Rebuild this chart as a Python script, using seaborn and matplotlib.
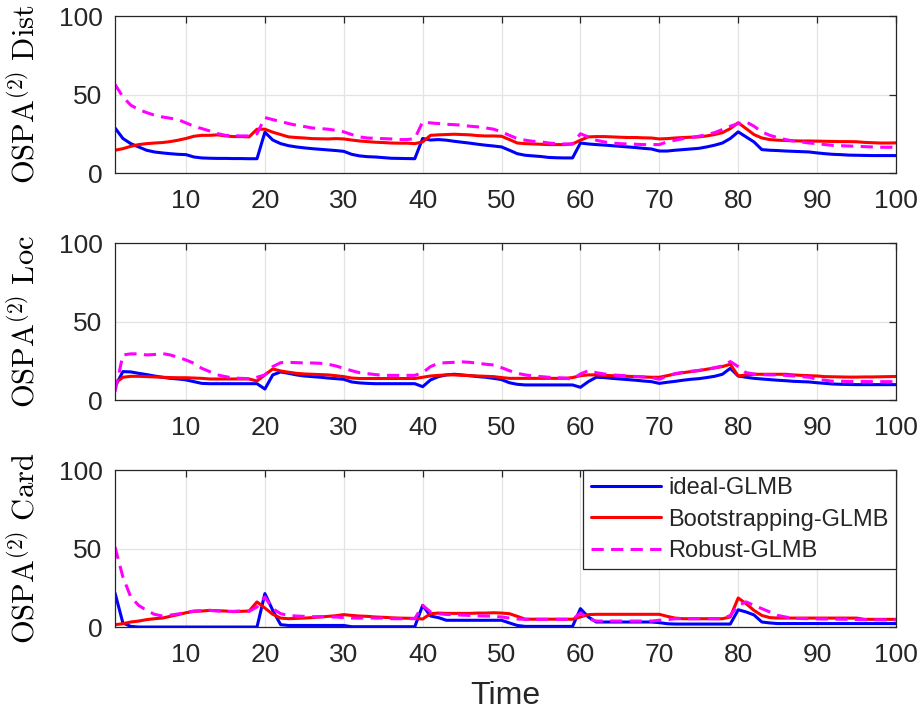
import numpy as np
import pandas as pd
import matplotlib
matplotlib.use("Agg")
import matplotlib.pyplot as plt
import seaborn as sns

# ---------------------------------------------------------------- data
time = list(range(1, 101))
methods = ["ideal-GLMB", "Bootstrapping-GLMB", "Robust-GLMB"]

# OSPA(2) distance
dist_ideal = [
    28.7, 22.0, 18.7, 16.6, 14.5, 13.4, 12.8, 12.3, 11.9, 11.7,
    10.2, 9.6, 9.4, 9.3, 9.3, 9.2, 9.2, 9.1, 9.1, 26.0,
    21.0, 18.7, 17.4, 16.6, 16.0, 15.5, 15.1, 14.7, 14.3, 13.8,
    11.9, 10.9, 10.4, 10.2, 9.8, 9.4, 9.3, 9.2, 9.1, 22.0,
    21.0, 21.3, 20.9, 20.2, 19.6, 19.0, 18.3, 17.7, 17.2, 16.6,
    14.5, 12.3, 11.3, 10.9, 10.5, 9.9, 9.7, 9.6, 9.6, 19.1,
    18.5, 18.1, 17.8, 17.4, 17.0, 16.6, 16.2, 15.7, 15.3, 14.0,
    14.0, 14.5, 14.9, 15.3, 15.7, 16.6, 17.7, 19.1, 22.0, 26.2,
    23.0, 19.8, 14.9, 14.5, 14.3, 14.0, 13.8, 13.6, 13.4, 12.8,
    12.3, 11.9, 11.7, 11.4, 11.3, 11.2, 11.1, 11.1, 11.1, 11.1,
]
dist_boot = [
    14.5, 15.5, 17.0, 18.1, 18.7, 19.1, 19.4, 20.0, 20.9, 22.0,
    23.4, 24.0, 24.0, 24.3, 23.6, 23.2, 23.2, 23.0, 27.9, 27.9,
    26.0, 24.5, 23.0, 22.6, 22.3, 21.9, 21.8, 21.7, 21.9, 21.7,
    21.0, 20.4, 20.0, 19.6, 19.4, 19.1, 19.0, 19.0, 18.7, 19.8,
    24.0, 24.3, 24.5, 24.7, 24.5, 24.3, 23.8, 23.6, 23.6, 23.4,
    21.3, 19.1, 18.7, 18.5, 18.3, 18.1, 18.1, 18.1, 18.5, 20.9,
    23.0, 23.2, 23.2, 23.0, 22.8, 22.6, 22.6, 22.4, 22.3, 21.7,
    21.9, 22.3, 22.6, 22.8, 23.0, 23.6, 24.5, 25.7, 28.3, 32.0,
    28.3, 24.5, 22.3, 21.3, 20.9, 20.7, 20.5, 20.4, 20.4, 20.3,
    20.2, 20.1, 20.0, 20.0, 19.9, 19.5, 19.3, 19.1, 19.1, 19.2,
]
dist_robust = [
    56.4, 48.5, 43.2, 40.4, 38.5, 36.8, 35.7, 34.9, 34.0, 31.9,
    29.8, 28.3, 26.8, 25.1, 24.0, 23.8, 23.6, 23.6, 25.0, 35.3,
    34.0, 32.8, 31.5, 30.4, 29.6, 28.7, 28.3, 27.9, 27.2, 26.2,
    24.5, 23.0, 22.3, 22.1, 21.9, 21.7, 21.3, 21.3, 21.9, 32.6,
    31.9, 31.5, 31.0, 30.8, 30.4, 29.8, 29.4, 28.7, 27.9, 26.2,
    24.0, 21.9, 20.9, 20.2, 19.8, 19.1, 18.7, 18.5, 18.5, 25.0,
    23.0, 20.9, 19.8, 19.1, 18.7, 18.5, 18.3, 18.1, 18.1, 18.1,
    19.8, 20.9, 21.9, 22.6, 23.4, 24.5, 25.7, 27.7, 29.8, 31.5,
    32.6, 29.8, 26.2, 24.0, 22.6, 21.3, 20.4, 19.8, 19.1, 18.7,
    18.1, 17.6, 17.4, 17.2, 17.0, 16.8, 16.6, 16.4, 16.4, 16.4,
]

# OSPA(2) localisation
loc_ideal = [
    8.5, 18.1, 17.9, 17.0, 16.2, 15.3, 14.5, 13.8, 13.4, 12.8,
    11.7, 10.6, 10.4, 10.4, 10.4, 10.4, 10.4, 10.4, 10.4, 7.0,
    16.0, 17.9, 17.0, 16.0, 15.3, 14.9, 14.5, 14.0, 13.6, 13.2,
    11.5, 10.9, 10.6, 10.4, 10.4, 10.4, 10.4, 10.4, 10.4, 8.5,
    12.8, 14.9, 16.0, 16.4, 16.0, 15.5, 14.9, 14.5, 13.8, 13.0,
    11.0, 10.0, 9.6, 9.6, 9.6, 9.6, 9.6, 9.6, 9.6, 8.1,
    11.7, 14.5, 14.3, 13.8, 13.4, 13.0, 12.6, 12.1, 11.7, 10.6,
    11.3, 11.9, 12.6, 13.2, 13.6, 14.3, 15.1, 16.4, 20.2, 15.3,
    14.5, 13.8, 13.4, 13.0, 12.6, 12.3, 11.9, 11.7, 11.5, 11.0,
    10.6, 10.2, 10.0, 9.9, 9.8, 9.8, 9.8, 9.8, 9.8, 9.8,
]
loc_boot = [
    10.6, 14.5, 15.1, 15.1, 14.9, 14.7, 14.5, 14.3, 14.2, 14.2,
    14.0, 13.8, 13.4, 13.4, 13.4, 13.4, 13.4, 13.4, 12.1, 16.0,
    19.8, 18.5, 17.7, 17.0, 16.6, 16.4, 16.2, 16.0, 15.5, 14.9,
    14.0, 13.7, 13.7, 13.7, 13.7, 13.7, 13.7, 13.7, 13.7, 14.5,
    15.3, 15.7, 16.0, 16.0, 15.7, 15.5, 15.3, 15.1, 14.9, 14.3,
    13.8, 13.8, 13.8, 13.8, 13.8, 13.8, 13.8, 13.8, 14.3, 15.5,
    16.0, 16.0, 15.7, 15.5, 15.3, 15.1, 14.9, 14.7, 14.5, 14.5,
    15.5, 16.6, 17.4, 18.1, 18.7, 19.6, 20.4, 21.3, 22.8, 15.3,
    16.0, 16.4, 16.4, 16.4, 16.4, 16.4, 16.0, 15.7, 15.5, 15.3,
    14.9, 14.8, 14.7, 14.6, 14.6, 14.7, 14.7, 14.8, 14.9, 15.0,
]
loc_robust = [
    5.3, 28.7, 29.4, 29.4, 28.7, 29.0, 29.6, 28.7, 27.2, 25.5,
    23.4, 20.2, 18.1, 16.0, 14.9, 14.0, 13.8, 13.6, 14.5, 16.0,
    21.3, 23.8, 24.0, 23.8, 23.6, 23.6, 23.4, 22.8, 21.7, 20.2,
    18.7, 17.4, 16.8, 16.2, 15.7, 15.7, 15.7, 15.7, 15.7, 17.4,
    21.3, 23.4, 23.8, 24.0, 24.3, 24.0, 23.4, 22.8, 22.3, 20.6,
    18.7, 17.0, 16.0, 15.3, 14.9, 14.5, 14.2, 14.0, 13.2, 16.6,
    18.7, 17.4, 16.6, 16.0, 15.7, 15.3, 15.0, 14.7, 14.3, 13.2,
    15.3, 16.8, 17.7, 18.3, 18.9, 19.6, 20.6, 21.7, 24.5, 21.3,
    17.4, 16.6, 16.2, 16.0, 16.0, 15.7, 15.3, 14.9, 14.5, 13.2,
    12.6, 11.9, 11.9, 11.8, 11.8, 11.8, 11.7, 11.7, 11.7, 11.7,
]

# OSPA(2) cardinality
card_ideal = [
    21.7, 2.6, 0.4, 0.0, 0.0, 0.0, 0.0, 0.0, 0.0, 0.0,
    0.0, 0.0, 0.0, 0.0, 0.0, 0.0, 0.0, 0.0, 0.0, 21.3,
    10.6, 1.5, 1.0, 1.0, 1.0, 1.0, 1.0, 1.0, 1.0, 1.0,
    0.2, 0.2, 0.2, 0.2, 0.2, 0.2, 0.2, 0.2, 0.2, 13.8,
    7.0, 6.0, 4.3, 4.3, 4.3, 4.3, 4.3, 4.3, 4.3, 4.3,
    2.6, 1.0, 0.4, 0.4, 0.4, 0.4, 0.4, 0.4, 0.4, 11.7,
    6.4, 3.2, 3.2, 3.2, 3.2, 3.2, 3.2, 3.2, 3.2, 2.8,
    2.1, 1.9, 1.9, 1.9, 1.9, 1.9, 1.9, 1.9, 1.9, 11.0,
    9.6, 7.7, 3.2, 2.6, 2.2, 2.2, 2.2, 2.2, 2.2, 2.2,
    2.2, 2.2, 2.2, 2.2, 2.2, 2.2, 2.2, 2.2, 2.2, 2.2,
]
card_boot = [
    1.5, 2.1, 3.2, 3.8, 4.7, 5.3, 5.7, 6.8, 7.9, 9.1,
    10.0, 10.2, 10.6, 10.4, 10.2, 9.8, 10.0, 10.2, 16.0, 12.1,
    8.1, 5.7, 5.3, 5.5, 5.7, 6.0, 6.4, 6.8, 7.2, 7.9,
    7.4, 7.0, 6.8, 6.4, 6.2, 5.9, 5.7, 5.6, 5.5, 5.1,
    8.5, 8.9, 8.7, 8.7, 8.7, 8.7, 8.9, 8.9, 9.1, 8.9,
    8.5, 6.8, 5.0, 5.0, 5.0, 5.0, 5.0, 5.0, 5.0, 6.4,
    7.9, 8.1, 8.1, 8.1, 8.1, 8.1, 8.1, 8.1, 8.1, 8.1,
    6.8, 5.7, 5.3, 5.3, 5.3, 5.3, 5.3, 5.3, 6.4, 18.5,
    14.9, 10.6, 7.4, 6.0, 5.7, 5.7, 5.7, 5.7, 5.7, 5.7,
    5.7, 5.7, 5.7, 5.7, 5.7, 4.9, 4.9, 4.9, 4.9, 4.9,
]
card_robust = [
    51.0, 31.9, 19.1, 13.8, 10.6, 8.1, 7.0, 7.6, 8.3, 9.4,
    10.2, 10.4, 10.6, 10.2, 9.8, 10.0, 10.2, 10.0, 12.8, 19.1,
    11.7, 8.5, 7.4, 7.0, 6.8, 6.6, 6.6, 6.4, 6.4, 6.0,
    5.7, 5.7, 5.7, 5.7, 5.7, 5.3, 5.3, 5.3, 5.3, 13.8,
    9.6, 8.5, 8.0, 7.8, 7.6, 7.4, 7.2, 7.0, 6.8, 6.4,
    5.7, 5.1, 4.9, 4.9, 4.9, 4.9, 4.9, 4.9, 4.9, 8.9,
    5.3, 3.8, 3.8, 3.8, 3.8, 3.8, 3.8, 3.8, 3.8, 4.3,
    4.7, 5.3, 5.3, 5.3, 5.3, 5.3, 5.3, 5.3, 7.4, 13.8,
    16.0, 13.8, 11.7, 9.6, 7.4, 6.4, 5.5, 5.4, 5.3, 5.2,
    5.1, 5.0, 5.0, 4.9, 4.8, 4.7, 4.6, 4.6, 4.5, 4.5,
]

panels = [
    ("Dist", [dist_ideal, dist_boot, dist_robust]),
    ("Loc", [loc_ideal, loc_boot, loc_robust]),
    ("Card", [card_ideal, card_boot, card_robust]),
]

# ---------------------------------------------------------------- style
sns.set_theme(style="white")
plt.rcParams["font.family"] = ["Liberation Sans", "DejaVu Sans"]
plt.rcParams["mathtext.fontset"] = "cm"

palette = {"ideal-GLMB": "#0000ff", "Bootstrapping-GLMB": "#ff0000",
           "Robust-GLMB": "#ff00ff"}
dashes = {"ideal-GLMB": "", "Bootstrapping-GLMB": "",
          "Robust-GLMB": (4, 2.4)}
ink = "#262626"

fig, axes = plt.subplots(3, 1, figsize=(9.23, 7.18), dpi=100)
fig.subplots_adjust(left=0.1246, right=0.9707, top=0.9777, bottom=0.1267,
                    hspace=0.446)

for i, (ax, (name, series)) in enumerate(zip(axes, panels)):
    frames = [pd.DataFrame({"Time": time, "value": vals, "Method": m})
              for m, vals in zip(methods, series)]
    df = pd.concat(frames, ignore_index=True)
    sns.lineplot(data=df, x="Time", y="value", hue="Method", style="Method",
                 palette=palette, dashes=dashes, hue_order=methods,
                 style_order=methods, linewidth=2.2, ax=ax,
                 legend=(i == 2))
    ax.set_xlim(1, 100)
    ax.set_ylim(0, 100)
    ax.set_xticks(range(10, 101, 10))
    ax.set_yticks([0, 50, 100])
    ax.grid(True, color="#e3e3e3", linewidth=0.9)
    ax.set_axisbelow(True)
    for sp in ax.spines.values():
        sp.set_color(ink)
        sp.set_linewidth(0.9)
    ax.tick_params(direction="in", length=5, width=0.9, color=ink,
                   labelcolor=ink, labelsize=19, top=True, right=True)
    ax.tick_params(axis="x", pad=11.5)
    ax.tick_params(axis="y", pad=9)
    ax.set_ylabel(r"$\mathrm{OSPA}^{(2)}\ \mathrm{" + name + "}$",
                  fontsize=22, color="black")
    ax.yaxis.set_label_coords(-0.0947, 0.5)
    ax.set_xlabel("")

axes[2].set_xlabel("Time", fontsize=23, color=ink)
axes[2].xaxis.set_label_coords(0.5, -0.344)

leg = axes[2].legend(loc="upper right", borderaxespad=0, fontsize=17,
                     frameon=True, fancybox=False, framealpha=1,
                     edgecolor=ink, handlelength=3.0, handletextpad=0.3,
                     labelspacing=0.4, borderpad=0.3)
leg.get_frame().set_linewidth(0.9)
for line in leg.get_lines():
    line.set_linewidth(2.2)

fig.savefig("out.png", dpi=100)
